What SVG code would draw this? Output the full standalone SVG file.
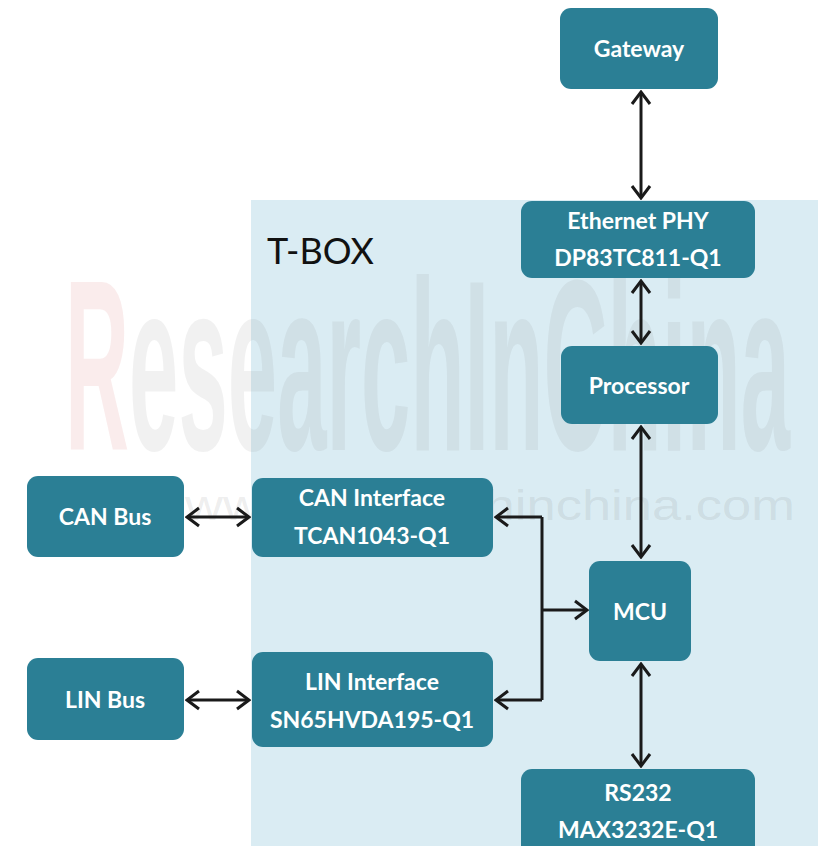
<svg xmlns="http://www.w3.org/2000/svg" width="818" height="846" viewBox="0 0 818 846">
<style>
.box{fill:#2b7f95}
.t{font-family:Lato,"Open Sans",sans-serif;font-weight:bold;font-size:23px;fill:#ffffff;text-anchor:middle}
.c{fill:none;stroke:#1a1a1a;stroke-width:3}
.wm{font-family:"Liberation Sans",Arial,sans-serif;font-weight:bold}
</style>
<defs>
<marker id="a" markerWidth="16" markerHeight="22" refX="14" refY="11" orient="auto-start-reverse" markerUnits="userSpaceOnUse" viewBox="0 0 16 22">
<path d="M2,2 L14,11 L2,20" fill="none" stroke="#1a1a1a" stroke-width="3"/>
</marker>
</defs>
<rect width="818" height="846" fill="#ffffff"/>
<rect id="tbox-area" x="251" y="200" width="567" height="646" fill="#daecf3"/>
<g id="watermark">
<text class="wm" x="65" y="450" font-size="244" textLength="725" lengthAdjust="spacingAndGlyphs"><tspan fill="#e8a0a0" fill-opacity="0.2">R</tspan><tspan fill="#808080" fill-opacity="0.11">esearchInChina</tspan></text>
<text x="185" y="520" font-family="'Liberation Sans',Arial,sans-serif" font-size="42" fill="#808080" fill-opacity="0.15" textLength="610" lengthAdjust="spacingAndGlyphs">www.researchinchina.com</text>
</g>
<text id="tbox-label" x="267" y="264" font-family="Lato,'Open Sans',sans-serif" font-size="36" fill="#111111">T-BOX</text>
<g id="connectors">
<path class="c" d="M641,92 V198" marker-start="url(#a)" marker-end="url(#a)"/>
<path class="c" d="M641,281 V343" marker-start="url(#a)" marker-end="url(#a)"/>
<path class="c" d="M641,427 V557" marker-start="url(#a)" marker-end="url(#a)"/>
<path class="c" d="M641,664 V766" marker-start="url(#a)" marker-end="url(#a)"/>
<path class="c" d="M187,517 H249" marker-start="url(#a)" marker-end="url(#a)"/>
<path class="c" d="M187,700 H249" marker-start="url(#a)" marker-end="url(#a)"/>
<path class="c" d="M542,517 V700"/>
<path class="c" d="M542,517 H496" marker-end="url(#a)"/>
<path class="c" d="M542,700 H496" marker-end="url(#a)"/>
<path class="c" d="M542,610 H587" marker-end="url(#a)"/>
</g>
<g id="gateway"><rect class="box" x="560" y="8" width="158" height="81" rx="11"/><text class="t" x="639" y="57">Gateway</text></g>
<g id="ethernet-phy"><rect class="box" x="521" y="201" width="234" height="77" rx="11"/><text class="t" x="638" y="229">Ethernet PHY</text><text class="t" x="638" y="266">DP83TC811-Q1</text></g>
<g id="processor"><rect class="box" x="561" y="346" width="157" height="78" rx="11"/><text class="t" x="639" y="394">Processor</text></g>
<g id="can-bus"><rect class="box" x="27" y="476" width="157" height="81" rx="11"/><text class="t" x="105" y="525">CAN Bus</text></g>
<g id="can-interface"><rect class="box" x="252" y="478" width="241" height="79" rx="11"/><text class="t" x="372" y="506">CAN Interface</text><text class="t" x="372" y="544">TCAN1043-Q1</text></g>
<g id="lin-bus"><rect class="box" x="27" y="658" width="157" height="82" rx="11"/><text class="t" x="105" y="708">LIN Bus</text></g>
<g id="lin-interface"><rect class="box" x="252" y="652" width="241" height="95" rx="11"/><text class="t" x="372" y="690">LIN Interface</text><text class="t" x="372" y="728">SN65HVDA195-Q1</text></g>
<g id="mcu"><rect class="box" x="589" y="561" width="102" height="100" rx="11"/><text class="t" x="640" y="620">MCU</text></g>
<g id="rs232"><rect class="box" x="521" y="769" width="234" height="90" rx="11"/><text class="t" x="638" y="801">RS232</text><text class="t" x="638" y="838">MAX3232E-Q1</text></g>
</svg>
